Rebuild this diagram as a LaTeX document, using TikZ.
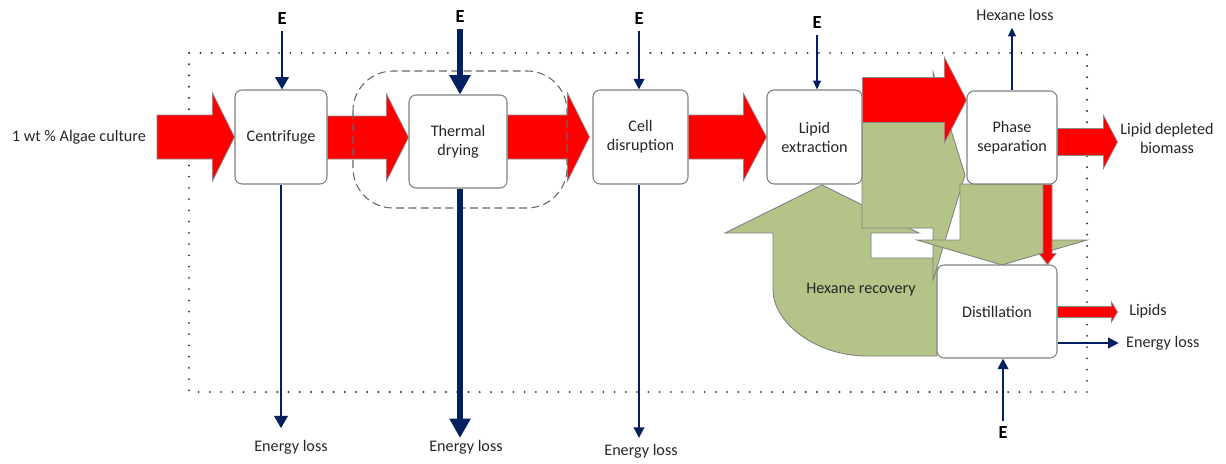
\documentclass[tikz,border=0pt]{standalone}
\usepackage{fontspec}
\setmainfont{Carlito}
\usepackage{tikz}
\usetikzlibrary{calc}
\usetikzlibrary{backgrounds}
\usetikzlibrary{arrows.meta}
\definecolor{navyblue}{RGB}{0,32,96}
\definecolor{flowred}{RGB}{255,0,0}
\definecolor{hexgreen}{RGB}{180,196,137}
\tikzset{proc/.style={draw=black!50,fill=white,rounded corners=4pt,align=center,inner sep=0pt,line width=0.6pt,text=black!85}}
\tikzset{lbl/.style={align=center,text=black!85,inner sep=1pt}}
% block arrow: tail anchor, tip, half shaft, half head, head length
\newcommand{\harrow}[5]{%
  \draw[flow] ($(#1 |- #2)+(0,-#3)$) -- ($(#2)+(-#5,-#3)$) -- ($(#2)+(-#5,-#4)$) -- (#2)
    -- ($(#2)+(-#5,#4)$) -- ($(#2)+(-#5,#3)$) -- ($(#1 |- #2)+(0,#3)$) -- cycle;}
\newcommand{\varrow}[5]{%
  \draw[flow] ($(#2 |- #1)+(-#3,0)$) -- ($(#2)+(-#3,-#5)$) -- ($(#2)+(-#4,-#5)$) -- (#2)
    -- ($(#2)+(#4,-#5)$) -- ($(#2)+(#3,-#5)$) -- ($(#2 |- #1)+(#3,0)$) -- cycle;}

\begin{document}
\begin{tikzpicture}[x=0.02cm,y=-0.02cm,font=\fontsize{9.2}{10.8}\selectfont]
\tikzstyle{flow} = [fill=flowred, draw=black!45, line width=0.4pt]
\tikzstyle{hex} = [fill=hexgreen, draw=black!50, line width=0.5pt]
\tikzstyle{efine} = [draw=navyblue, line width=0.7pt, -{Triangle[length=5pt,width=4.5pt]}]
\tikzstyle{emid} = [draw=navyblue, line width=1.1pt, -{Triangle[length=6pt,width=6pt]}]
\tikzstyle{ebold} = [draw=navyblue, line width=1.6pt, -{Triangle[length=7pt,width=7.5pt]}]
\tikzstyle{eheavy} = [draw=navyblue, line width=3pt, -{Triangle[length=11pt,width=11.5pt]}]
\tikzstyle{enode} = [font=\fontsize{10.5}{12}\selectfont\bfseries]
\useasboundingbox (0,0) rectangle (1226,463);

% process units
\node[proc, minimum width=1.84cm, minimum height=1.88cm] (cen) at (281,137) {Centrifuge};
\node[proc, minimum width=1.96cm, minimum height=1.86cm] (dry) at (458,141.5) {Thermal\\drying};
\node[proc, minimum width=1.90cm, minimum height=1.88cm] (cell) at (640.5,137) {Cell\\disruption};
\node[proc, minimum width=1.90cm, minimum height=1.88cm] (lip) at (814.5,137) {Lipid\\extraction};
\node[proc, minimum width=1.80cm, minimum height=1.86cm] (phase) at (1012,137.5) {Phase\\separation};
\node[proc, minimum width=2.40cm, minimum height=1.86cm] (dist) at (997,311.5) {Distillation};

% boundary and hexane loop
\begin{pgfonlayer}{background}
\draw[black!80, line width=1.2pt, dash pattern=on 0pt off 6.4pt, line cap=round] (189,53) rectangle (1087,392);
\draw[hex] (822,185) -- (919,233) -- (871,233) -- (871,258) -- (937,258) -- (937,356) -- (867,356)
  .. controls (815,356) and (773,322) .. (773,290) -- (773,233) -- (725,233) -- cycle;
\draw[hex] (862,110) -- (933,110) -- (933,72) -- (965,175) -- (933,280) -- (933,228) -- (862,228) -- cycle;
\draw[hex] (960,184) -- (1044,184) -- (1044,240) -- (1087,240) -- (1002,265) -- (917,240) -- (960,240) -- cycle;
\end{pgfonlayer}
\node[lbl] (hexrec) at (861,290) {Hexane recovery};

% mass flow
\node[lbl, anchor=east] (feedlbl) at (148,137) {1 wt \% Algae culture};
\coordinate (feed) at (157,137);
\harrow{feed}{cen.west}{22}{44}{22}
\coordinate (t2) at ($(dry.west)+(0,-4)$);
\harrow{cen.east}{t2}{21.5}{43.5}{22}
\coordinate (t3) at ($(cell.west)+(-3,0)$);
\harrow{dry.east}{t3}{22}{44}{22}
\harrow{cell.east}{lip.west}{22}{43.5}{23}
\coordinate (t5) at ($(phase.west)+(0,-37.5)$);
\harrow{lip.east}{t5}{22.5}{42.5}{22}
\node[lbl] (biomass) at (1167,138) {Lipid depleted\\biomass};
\coordinate (t6) at ($(phase.east)+(60,4.5)$);
\harrow{phase.east}{t6}{13.5}{26.5}{14}
\node[lbl] (lipids) at (1148,311) {Lipids};
\coordinate (t7) at ($(dist.east)+(60,0.5)$);
\harrow{dist.east}{t7}{5.5}{10}{6}
\coordinate (t8) at ($(dist.north)+(50.5,0)$);
\varrow{phase.south}{t8}{4.5}{8.5}{11}

\draw[black!60, line width=0.6pt, dash pattern=on 4.5pt off 2.5pt, rounded corners=0.8cm] (353,71) rectangle (567,208);

% energy in
\node[enode] (eCen) at (282,19) {E};
\node[enode] (eDry) at (460,17) {E};
\node[enode] (eCell) at (639,19) {E};
\node[enode] (eLip) at (817,23) {E};
\node[enode] (eDist) at (1003,433) {E};
\draw[ebold] (eCen) -- (eCen |- cen.north);
\draw[eheavy] (eDry) -- (eDry |- dry.north);
\draw[emid] (eCell) -- (eCell |- cell.north);
\draw[efine] (eLip) -- (eLip |- lip.north);
\draw[emid] (eDist) -- (eDist |- dist.south);

% energy out
\node[lbl] (lossCen) at (291,447) {Energy loss};
\node[lbl] (lossDry) at (466,447) {Energy loss};
\node[lbl] (lossCell) at (641,451) {Energy loss};
\node[lbl, anchor=west] (lossDist) at (1124,343) {Energy loss};
\node[lbl] (hexloss) at (1015,15) {Hexane loss};
\draw[ebold, shorten >=5.5pt] (cen.south) -- (cen.south |- lossCen.north);
\draw[eheavy] ($(dry.south)+(2,0)$) -- ($(dry.south |- lossDry.north)+(2,0)$);
\draw[emid, shorten >=2.3pt] ($(cell.south)+(-1.5,0)$) -- ($(cell.south |- lossCell.north)+(-1.5,0)$);
\draw[emid, shorten >=3pt] (dist.east |- lossDist) -- (lossDist.west);
\draw[efine, shorten >=2.8pt] (phase.north) -- (phase.north |- hexloss.south);
\end{tikzpicture}
\end{document}
